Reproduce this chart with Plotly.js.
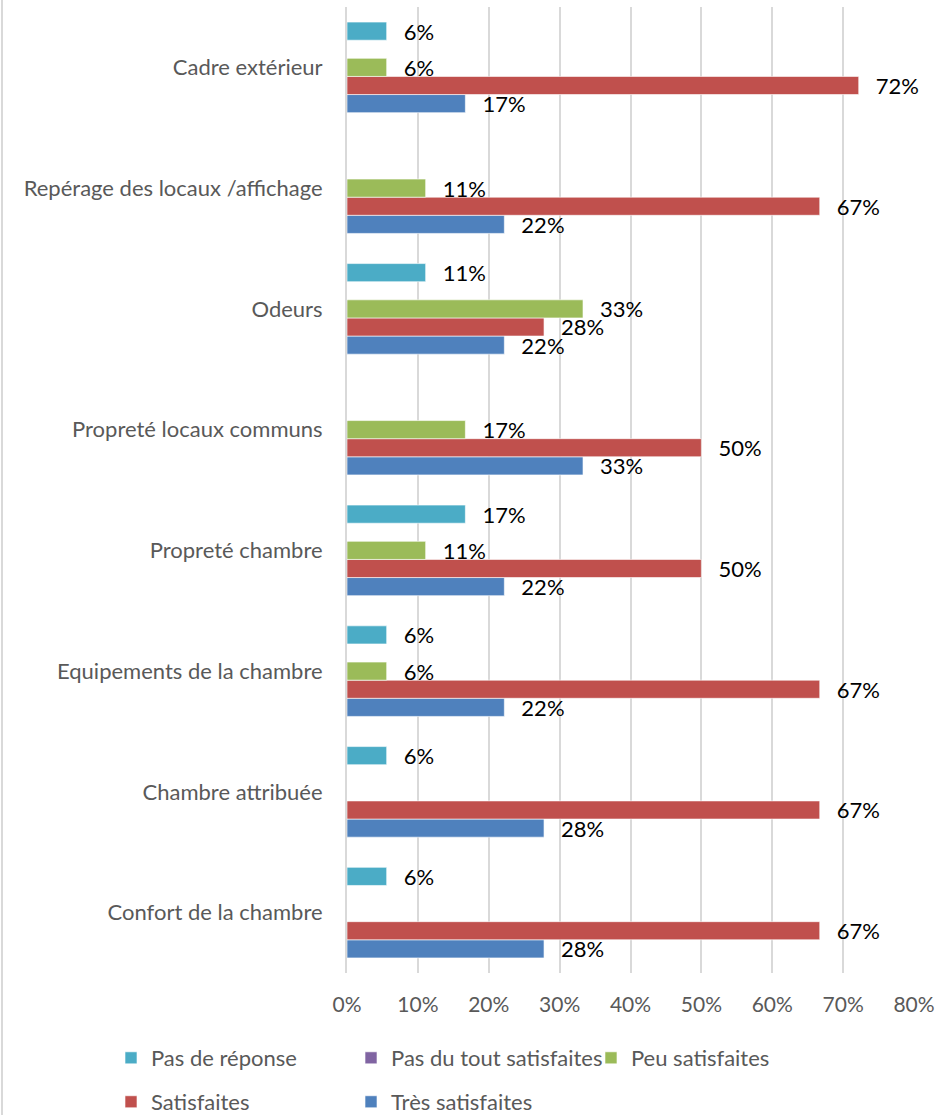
<!DOCTYPE html>
<html>
<head>
<meta charset="utf-8">
<script src="https://cdn.plot.ly/plotly-3.0.1.min.js"></script>
<style>
  body { margin: 0; background: #fff; }
  #chart { width: 936px; height: 1115px; }
  #edge { position: absolute; left: 1px; top: 0; width: 2px; height: 1115px; background: #d9d9d9; }
</style>
</head>
<body>
<div id="chart"></div>
<div id="edge"></div>
<script>
// categories listed bottom -> top (plotly puts the first category at the bottom)
const categories = [
  "Confort de la chambre",
  "Chambre attribuée",
  "Equipements de la chambre",
  "Propreté chambre",
  "Propreté locaux communs",
  "Odeurs",
  "Repérage des locaux /affichage",
  "Cadre extérieur"
];

// shares (n = 18 respondents)
const tresSatisfaites = [0.278, 0.278, 0.222, 0.222, 0.333, 0.222, 0.222, 0.167];
const satisfaites     = [0.667, 0.667, 0.667, 0.500, 0.500, 0.278, 0.667, 0.722];
const peuSatisfaites  = [0, 0, 0.056, 0.111, 0.167, 0.333, 0.111, 0.056];
const pasDuTout       = [0, 0, 0, 0, 0, 0, 0, 0];
const pasDeReponse    = [0.056, 0.056, 0.056, 0.167, 0, 0.111, 0, 0.056];

const tickVals = [0, 0.1, 0.2, 0.3, 0.4, 0.5, 0.6, 0.7, 0.8];
const tickText = ["0%", "10%", "20%", "30%", "40%", "50%", "60%", "70%", "80%"];

const FONT = "Lato, 'Open Sans', sans-serif";
const GREY = "#595959";

function labels(values) {
  // Excel shows no label on empty bars
  return values.map(v => v > 0 ? "\u00a0\u00a0\u2009" + Math.round(v * 100) + "%" : "");
}

function barTrace(name, values, color, legendId) {
  return {
    type: "bar",
    orientation: "h",
    name: name,
    x: values,
    y: categories,
    text: labels(values),
    textposition: "outside",
    textfont: { family: FONT, size: 22, color: "#000" },
    constraintext: "none",
    cliponaxis: false,
    marker: { color: color, line: { color: "rgba(255,255,255,0.6)", width: 1 } },
    legend: legendId,
    hoverinfo: "name+x"
  };
}

// first trace sits at the bottom of each group
const traces = [
  barTrace("Très satisfaites", tresSatisfaites, "#4F81BD", "legend5"),
  barTrace("Satisfaites", satisfaites, "#C0504D", "legend4"),
  barTrace("Peu satisfaites", peuSatisfaites, "#9BBB59", "legend3"),
  barTrace("Pas du tout satisfaites", pasDuTout, "#8064A2", "legend2"),
  barTrace("Pas de réponse", pasDeReponse, "#4BACC6", "legend")
];

// one legend per entry so the grid matches the Excel layout
function legendAt(x, y) {
  return {
    orientation: "h",
    xanchor: "left",
    yanchor: "middle",
    x: x,
    y: y,
    font: { family: FONT, size: 22, color: GREY },
    bgcolor: "rgba(0,0,0,0)"
  };
}

const row1 = -0.088, row2 = -0.1335;
const col1 = -0.4162, col2 = 0.0071, col3 = 0.4303;

const layout = {
  width: 936,
  height: 1115,
  margin: { l: 347, r: 22, t: 7, b: 142, autoexpand: false },
  paper_bgcolor: "#fff",
  plot_bgcolor: "#fff",
  font: { family: FONT, color: GREY },
  barmode: "group",
  bargap: 0.25,
  bargroupgap: 0,
  xaxis: {
    range: [0, 0.8],
    tickmode: "array",
    tickvals: tickVals,
    ticktext: tickText,
    showgrid: true,
    gridcolor: "#d9d9d9",
    gridwidth: 2,
    zeroline: false,
    showline: false,
    ticks: "",
    ticklabelstandoff: 17,
    tickfont: { family: FONT, size: 21, color: GREY },
    fixedrange: true
  },
  yaxis: {
    type: "category",
    showgrid: false,
    zeroline: false,
    showline: true,
    linecolor: "#d9d9d9",
    linewidth: 2,
    ticks: "",
    ticklabelstandoff: 18,
    tickfont: { family: FONT, size: 22, color: GREY },
    fixedrange: true
  },
  showlegend: true,
  legend: legendAt(col1, row1),
  legend2: legendAt(col2, row1),
  legend3: legendAt(col3, row1),
  legend4: legendAt(col1, row2),
  legend5: legendAt(col2, row2)
};

Plotly.newPlot("chart", traces, layout, { displayModeBar: false, staticPlot: true });
</script>
</body>
</html>
